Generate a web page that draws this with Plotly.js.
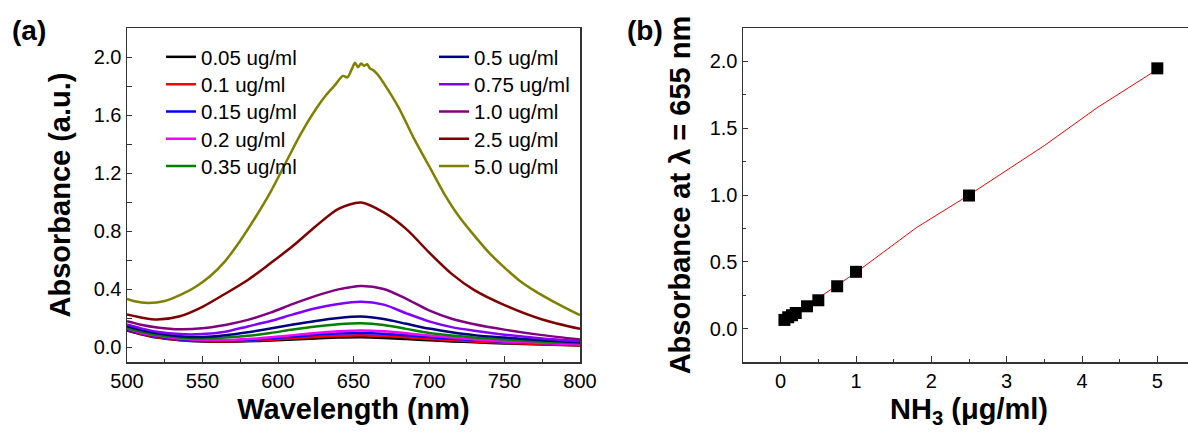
<!DOCTYPE html>
<html>
<head>
<meta charset="utf-8">
<script src="https://cdn.plot.ly/plotly-3.0.1.min.js"></script>
<style>
html, body { margin: 0; padding: 0; overflow: hidden; background: #fff; }
#chart { width: 1200px; height: 437px; }
</style>
</head>
<body>
<div id="chart"></div>
<script>
// ---------- Panel (a): absorption spectra ----------
const wavelengths = [500,510,520,535,550,565,580,595,610,625,640,655,670,685,700,715,730,750,775,800];
const absC005 = [0.118,0.090,0.068,0.050,0.042,0.040,0.043,0.048,0.055,0.062,0.068,0.070,0.066,0.058,0.050,0.042,0.036,0.028,0.020,0.013];
const absC010 = [0.120,0.092,0.070,0.052,0.045,0.043,0.047,0.054,0.063,0.073,0.081,0.085,0.080,0.070,0.059,0.050,0.042,0.032,0.022,0.015];
const absC015 = [0.125,0.097,0.075,0.055,0.047,0.046,0.052,0.062,0.074,0.087,0.096,0.100,0.095,0.084,0.072,0.060,0.050,0.040,0.030,0.022];
const absC020 = [0.130,0.100,0.080,0.060,0.052,0.051,0.058,0.070,0.085,0.100,0.111,0.117,0.111,0.098,0.082,0.068,0.055,0.042,0.030,0.020];
const absC035 = [0.135,0.106,0.085,0.068,0.062,0.068,0.080,0.100,0.124,0.145,0.160,0.167,0.155,0.128,0.100,0.082,0.068,0.055,0.040,0.030];
const absC050 = [0.146,0.118,0.097,0.078,0.072,0.084,0.105,0.130,0.158,0.183,0.203,0.213,0.196,0.163,0.130,0.105,0.085,0.068,0.050,0.036];
const absC075 = [0.158,0.130,0.108,0.092,0.092,0.108,0.145,0.182,0.228,0.270,0.300,0.315,0.295,0.235,0.180,0.140,0.115,0.088,0.062,0.043];
const absC100 = [0.181,0.155,0.138,0.125,0.132,0.155,0.190,0.240,0.300,0.355,0.400,0.424,0.403,0.335,0.255,0.198,0.160,0.123,0.085,0.055];
const absC250 = [0.227,0.205,0.192,0.215,0.280,0.370,0.465,0.580,0.700,0.835,0.955,0.998,0.930,0.815,0.655,0.507,0.395,0.292,0.193,0.128];
const wavelengths50 = [500,505,514,525,535,545,555,565,575,585,595,605,615,625,632,638,643,646,649,651,653,655,657,659,661,663,666,670,680,690,700,710,720,730,740,750,760,770,780,790,800];
const absC500 = [0.335,0.318,0.307,0.320,0.360,0.415,0.490,0.595,0.735,0.895,1.070,1.270,1.470,1.640,1.740,1.810,1.870,1.860,1.920,1.960,1.930,1.955,1.940,1.950,1.920,1.910,1.880,1.820,1.650,1.440,1.250,1.060,0.900,0.770,0.650,0.550,0.460,0.390,0.330,0.275,0.222];

const seriesNames = ['0.05 ug/ml','0.1 ug/ml','0.15 ug/ml','0.2 ug/ml','0.35 ug/ml','0.5 ug/ml','0.75 ug/ml','1.0 ug/ml','2.5 ug/ml','5.0 ug/ml'];
const seriesColors = ['#000000','#ff0000','#0000ff','#ff00ff','#008000','#000080','#8000ff','#800080','#800000','#808000'];
const seriesY = [absC005,absC010,absC015,absC020,absC035,absC050,absC075,absC100,absC250,absC500];
const seriesX = [wavelengths,wavelengths,wavelengths,wavelengths,wavelengths,wavelengths,wavelengths,wavelengths,wavelengths,wavelengths50];

// ---------- Panel (b): calibration ----------
const concNH3 = [0.05,0.1,0.15,0.2,0.35,0.5,0.75,1.0,2.5,5.0];
const abs655 = [0.065,0.085,0.100,0.117,0.167,0.212,0.317,0.425,0.996,1.948];
const fitX = [0.05,0.15,1.0,1.8,2.5,3.5,4.2,5.0];
const fitY = [0.065,0.095,0.420,0.755,1.000,1.370,1.653,1.940];

const FONT = 'Arial, "Liberation Sans", sans-serif';
const W = 1200, H = 437;

// legend layout: two columns of five rows
const legendRowsPx = [57, 84.3, 111.6, 138.9, 166.2];
const legendColsPx = [161, 434];

const traces = [];
const legendDefs = {};
for (let i = 0; i < seriesNames.length; i++) {
  const key = i === 0 ? 'legend' : 'legend' + (i + 1);
  traces.push({
    type: 'scatter', mode: 'lines',
    x: seriesX[i], y: seriesY[i], name: seriesNames[i],
    line: {color: seriesColors[i], width: 2.5, shape: 'spline', smoothing: 0.8},
    xaxis: 'x', yaxis: 'y',
    legend: key,
    hoverinfo: 'skip'
  });
  const col = i < 5 ? 0 : 1;
  const row = i % 5;
  legendDefs[key] = {
    x: legendColsPx[col] / W, y: 1 - legendRowsPx[row] / H,
    xanchor: 'left', yanchor: 'middle',
    bgcolor: 'rgba(0,0,0,0)', borderwidth: 0,
    font: {family: FONT, size: 20.5, color: '#000'}
  };
}
traces.push({
  type: 'scatter', mode: 'lines', x: fitX, y: fitY,
  line: {color: '#ff0000', width: 1}, xaxis: 'x2', yaxis: 'y2', showlegend: false
});
traces.push({
  type: 'scatter', mode: 'markers', x: concNH3, y: abs655,
  marker: {symbol: 'square', size: 12, color: '#000000'},
  xaxis: 'x2', yaxis: 'y2', showlegend: false
});

const yDom = [1 - 362/H, 1 - 28/H];
const axisCommon = {
  showgrid: false, zeroline: false, showline: true, mirror: true,
  linecolor: '#333333', linewidth: 1.5, ticks: 'inside', tickcolor: '#333333',
  tickfont: {family: FONT, size: 20, color: '#000'}, automargin: false
};
const titleFont = {family: FONT, size: 29, color: '#000', weight: 'bold'};

const layout = Object.assign({
  width: W, height: H,
  margin: {l: 0, r: 0, t: 0, b: 0},
  paper_bgcolor: '#fff', plot_bgcolor: '#fff',
  font: {family: FONT, color: '#000'},
  xaxis: Object.assign({}, axisCommon, {
    domain: [127/W, 580/W], anchor: 'y', range: [500, 800],
    tick0: 500, dtick: 50, ticklen: 6,
    minor: {dtick: 25, ticks: 'inside', ticklen: 3, tickcolor: '#333333', showgrid: false},
    title: {text: 'Wavelength (nm)', font: titleFont, standoff: 8}
  }),
  yaxis: Object.assign({}, axisCommon, {
    domain: yDom, anchor: 'x', range: [-0.1, 2.2],
    tick0: 0, dtick: 0.4, tickformat: '.1f', ticklen: 5,
    minor: {dtick: 0.2, ticks: 'inside', ticklen: 5, tickcolor: '#333333', showgrid: false},
    title: {text: 'Absorbance (a.u.)', font: titleFont, standoff: 14}
  }),
  xaxis2: Object.assign({}, axisCommon, {
    domain: [743/W, 1195/W], anchor: 'y2', range: [-0.5, 5.5],
    tick0: 0, dtick: 1, ticklen: 6,
    minor: {dtick: 0.5, ticks: 'inside', ticklen: 3, tickcolor: '#333333', showgrid: false},
    title: {text: 'NH<sub>3</sub> (μg/ml)', font: titleFont, standoff: 8}
  }),
  yaxis2: Object.assign({}, axisCommon, {
    domain: yDom, anchor: 'x2', range: [-0.25, 2.25],
    tick0: 0, dtick: 0.5, tickformat: '.1f', ticklen: 5,
    minor: {dtick: 0.25, ticks: 'inside', ticklen: 3, tickcolor: '#333333', showgrid: false},
    title: {text: 'Absorbance at λ = 655 nm', font: titleFont, standoff: 10}
  }),
  annotations: [
    {text: '(a)', xref: 'paper', yref: 'paper', x: 10/W, y: 1 - 13/H, xanchor: 'left', yanchor: 'top',
     showarrow: false, font: {family: FONT, size: 28, color: '#000', weight: 'bold'}},
    {text: '(b)', xref: 'paper', yref: 'paper', x: 625/W, y: 1 - 13/H, xanchor: 'left', yanchor: 'top',
     showarrow: false, font: {family: FONT, size: 28, color: '#000', weight: 'bold'}}
  ],
  showlegend: true
}, legendDefs);

Plotly.newPlot('chart', traces, layout, {displayModeBar: false, staticPlot: true});
</script>
</body>
</html>
